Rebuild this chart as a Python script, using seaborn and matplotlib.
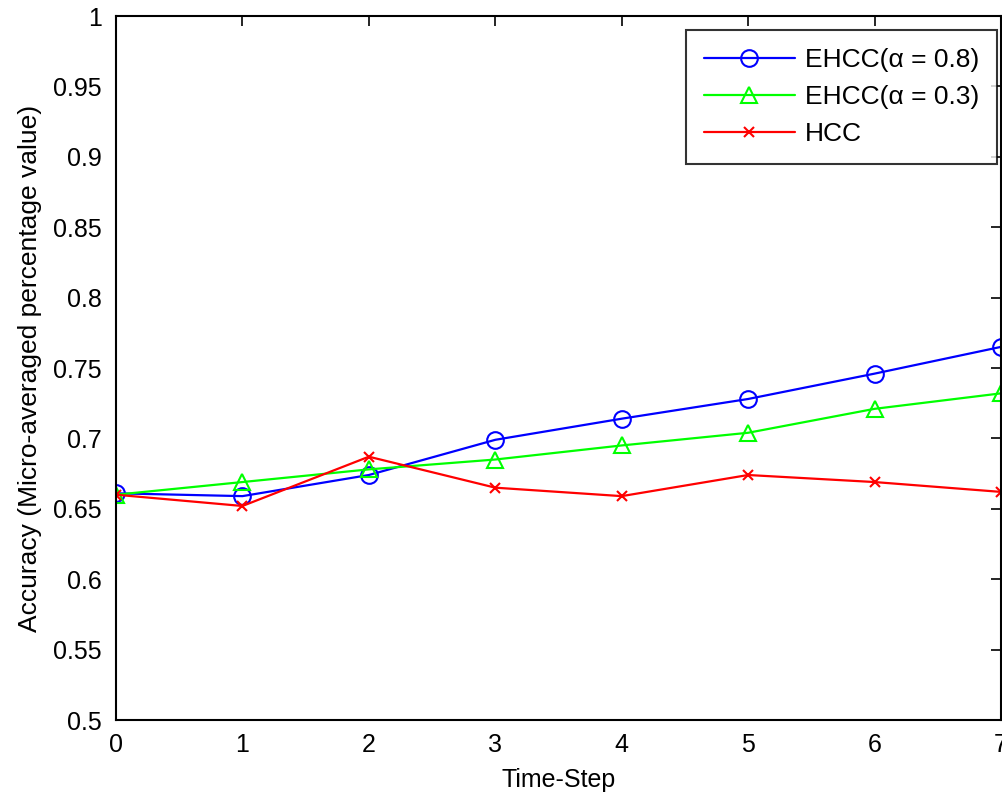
import matplotlib
matplotlib.use("Agg")
import matplotlib.pyplot as plt
import seaborn as sns
import pandas as pd

# Accuracy per time step for each method
time_steps = [0, 1, 2, 3, 4, 5, 6, 7]
ehcc_08 = [0.661, 0.659, 0.674, 0.699, 0.714, 0.728, 0.746, 0.765]
ehcc_03 = [0.660, 0.669, 0.678, 0.685, 0.695, 0.704, 0.721, 0.732]
hcc = [0.660, 0.652, 0.687, 0.665, 0.659, 0.674, 0.669, 0.662]

series_names = ["EHCC(\u03b1 = 0.8)", "EHCC(\u03b1 = 0.3)", "HCC"]
y_ticks = [0.5, 0.55, 0.6, 0.65, 0.7, 0.75, 0.8, 0.85, 0.9, 0.95, 1]
y_tick_labels = ["0.5", "0.55", "0.6", "0.65", "0.7", "0.75", "0.8", "0.85", "0.9", "0.95", "1"]

sns.set_theme(style="white")
plt.rcParams["font.family"] = ["Liberation Sans", "DejaVu Sans"]
plt.rcParams["text.color"] = "black"
plt.rcParams["axes.labelcolor"] = "black"

fig = plt.figure(figsize=(10.03, 7.96), dpi=100)
ax = fig.add_axes([116 / 1003, 76 / 796, (1001 - 116) / 1003, (720 - 16) / 796])

styles = [
    dict(color="#0000ff", marker="o", markersize=12),
    dict(color="#00ff00", marker="^", markersize=12),
    dict(color="#ff0000", marker="x", markersize=7),
]

for name, vals, st in zip(series_names, [ehcc_08, ehcc_03, hcc], styles):
    df = pd.DataFrame({"step": time_steps, "acc": vals})
    sns.lineplot(
        data=df, x="step", y="acc", ax=ax, label=name,
        color=st["color"], marker=st["marker"], markersize=st["markersize"],
        markerfacecolor="none", markeredgecolor=st["color"],
        markeredgewidth=1.5, linewidth=1.6,
    )

ax.set_xlim(0, 7)
ax.set_ylim(0.5, 1)
ax.set_xticks(time_steps)
ax.set_xticklabels([str(t) for t in time_steps])
ax.set_yticks(y_ticks)
ax.set_yticklabels(y_tick_labels)
ax.tick_params(direction="in", length=7, width=1.2, labelsize=18,
               top=True, right=True, colors="black")
ax.tick_params(axis="x", pad=9)
ax.tick_params(axis="y", pad=10)
for sp in ax.spines.values():
    sp.set_visible(True)
    sp.set_color("black")
    sp.set_linewidth(1.5)

ax.set_xlabel("Time-Step", fontsize=18, labelpad=8)
ax.set_ylabel("Accuracy (Micro-averaged percentage value)", fontsize=19, labelpad=8)

leg = ax.legend(loc="upper right", bbox_to_anchor=(0.9955, 0.980), fontsize=19,
                frameon=True, fancybox=False, edgecolor="black",
                handlelength=3.45, handletextpad=0.38, borderpad=0.68,
                borderaxespad=0, labelspacing=0.5)
leg.get_frame().set_linewidth(1.5)

fig.savefig("out.png", dpi=100, facecolor="white")
